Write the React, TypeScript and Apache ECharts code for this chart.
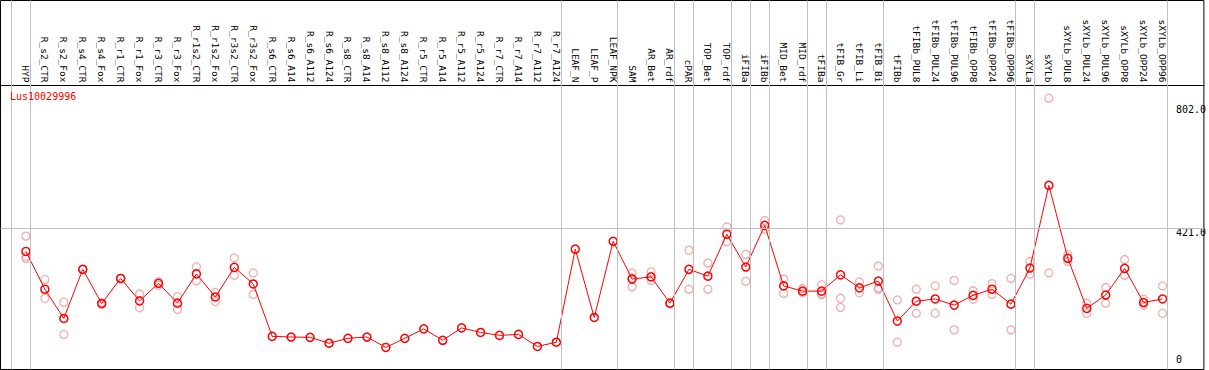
import React, { useEffect, useRef } from "react";
import * as echarts from "echarts";

const title = "Lus10029996";

const categories = [
  "HYP", "R_s2_CTR", "R_s2_Fox", "R_s4_CTR", "R_s4_Fox", "R_r1_CTR", "R_r1_Fox", "R_r3_CTR", "R_r3_Fox",
  "R_r1s2_CTR", "R_r1s2_Fox", "R_r3s2_CTR", "R_r3s2_Fox", "R_s6_CTR", "R_s6_A14", "R_s6_A112", "R_s6_A124",
  "R_s8_CTR", "R_s8_A14", "R_s8_A112", "R_s8_A124", "R_r5_CTR", "R_r5_A14", "R_r5_A112", "R_r5_A124",
  "R_r7_CTR", "R_r7_A14", "R_r7_A112", "R_r7_A124", "LEAF_N", "LEAF_P", "LEAF_NPK", "SAM", "AR_Bet", "AR_rdf",
  "cPAR", "TOP_Bet", "TOP_rdf", "iFIBa", "iFIBb", "MID_Bet", "MID_rdf", "tFIBa", "tFIB_Gr", "tFIB_Li", "tFIB_Bi",
  "tFIBb", "tFIBb_PUL8", "tFIBb_PUL24", "tFIBb_PUL96", "tFIBb_OPP8", "tFIBb_OPP24", "tFIBb_OPP96",
  "sXYLa", "sXYLb", "sXYLb_PUL8", "sXYLb_PUL24", "sXYLb_PUL96", "sXYLb_OPP8", "sXYLb_OPP24", "sXYLb_OPP96",
];

const means = [
  349, 233, 143, 294, 189, 266, 197, 251, 190, 280, 209, 300, 249, 88, 86, 85, 67, 82, 86, 54, 82, 111, 76,
  114, 100, 91, 94, 57, 70, 356, 146, 380, 264, 271, 190, 294, 273, 402, 301, 429, 243, 227, 227, 277, 237,
  258, 135, 196, 203, 184, 214, 233, 187, 298, 552, 328, 174, 215, 297, 192, 203,
];

const replicates: number[][] = [
  [396, 333, 327], [263, 205], [193, 94], [294, 294], [191, 187], [266, 266], [218, 176], [256, 245],
  [210, 171], [302, 259], [223, 195], [329, 276], [283, 217],
  [], [], [], [], [], [], [], [], [], [], [], [], [], [], [], [], [], [], [],
  [283, 268, 240], [286, 260], [190, 188], [353, 233], [313, 233], [424, 379], [340, 257], [444, 417],
  [264, 220], [235, 222], [246, 218, 216], [446, 205, 177], [255, 222], [304, 233, 237],
  [200, 70], [233, 159], [243, 159], [260, 108], [228, 202], [250, 217], [266, 108],
  [318, 279], [820, 283], [339, 318], [190, 159], [238, 190], [324, 276], [202, 184], [243, 159],
];

// index of the last category of each group (separator drawn just after it)
const groupEnds = [-1, 0, 28, 31, 34, 35, 37, 38, 39, 41, 42, 45, 52, 53, 60];
const yTickLabels = [421, 802];
const yZeroLabel = [0];
const refLine = 421;

const MONO = "'DejaVu Sans Mono', 'Liberation Mono', monospace";

export default function App() {
  const ref = useRef<HTMLDivElement>(null);
  useEffect(() => {
    document.body.style.margin = "0";
    if (!ref.current) return;
    const chart = echarts.init(ref.current, null, { renderer: "svg" });
    const meanData = means.map((v, i) => [i, v]);
    const repData: number[][] = [];
    replicates.forEach((r, i) => r.forEach((v) => repData.push([i, v])));
    const idx = categories.map((_, i) => i);

    chart.setOption({
      animation: false,
      title: {
        text: title,
        left: 10,
        top: 91,
        padding: 0,
        textStyle: { color: "#ff0000", fontSize: 10, fontFamily: MONO, fontWeight: "normal" },
      },
      grid: {
        left: 0.5,
        top: 0.5,
        width: 1207,
        height: 369,
        show: true,
        borderColor: "#000",
        borderWidth: 1,
        backgroundColor: "transparent",
      },
      xAxis: {
        type: "value",
        min: -1.3421,
        max: 62.184,
        position: "top",
        offset: -85,
        axisLine: { show: true, onZero: false, lineStyle: { color: "#000", width: 1 } },
        axisTick: { show: false },
        splitLine: { show: false },
        axisLabel: {
          customValues: idx,
          formatter: (v: number) => categories[Math.round(v)] ?? "",
          rotate: 90,
          margin: 3,
          color: "#000",
          fontSize: 9.5,
          lineHeight: 12,
          fontFamily: MONO,
        },
      },
      yAxis: [
        {
          type: "value",
          min: -13.83,
          max: 1120.1,
          position: "right",
          axisLine: { show: false },
          axisTick: { show: false },
          splitLine: { show: false },
          axisLabel: {
            customValues: yTickLabels,
            inside: true,
            align: "left",
            verticalAlign: "top",
            margin: 28,
            color: "#000",
            fontSize: 10,
            fontFamily: MONO,
            formatter: (v: number) => v.toFixed(1),
          },
        },
        {
          type: "value",
          min: -13.83,
          max: 1120.1,
          position: "right",
          axisLine: { show: false },
          axisTick: { show: false },
          splitLine: { show: false },
          axisLabel: {
            customValues: yZeroLabel,
            inside: true,
            align: "left",
            verticalAlign: "bottom",
            margin: 28,
            color: "#000",
            fontSize: 10,
            fontFamily: MONO,
            formatter: (v: number) => String(v),
          },
        },
      ],
      series: [
        {
          type: "line",
          data: [],
          z: 1,
          silent: true,
          markLine: {
            silent: true,
            symbol: "none",
            label: { show: false },
            lineStyle: { color: "#c0c0c0", type: "solid", width: 1 },
            data: [
              ...groupEnds.map((g) => ({ xAxis: g + 0.24 })),
              { yAxis: refLine },
            ],
          },
        },
        {
          type: "scatter",
          data: repData,
          z: 3,
          symbol: "circle",
          symbolSize: 8,
          itemStyle: { color: "transparent", borderColor: "#ec9a9a", borderWidth: 1.3 },
        },
        {
          type: "line",
          data: meanData,
          z: 4,
          symbol: "circle",
          symbolSize: 8,
          showAllSymbol: true,
          lineStyle: { color: "#ff0000", width: 1 },
          itemStyle: { color: "transparent", borderColor: "#ff0000", borderWidth: 1.5 },
        },
      ],
    });
    return () => chart.dispose();
  }, []);
  return <div ref={ref} style={{ width: 1209, height: 370 }} />;
}
